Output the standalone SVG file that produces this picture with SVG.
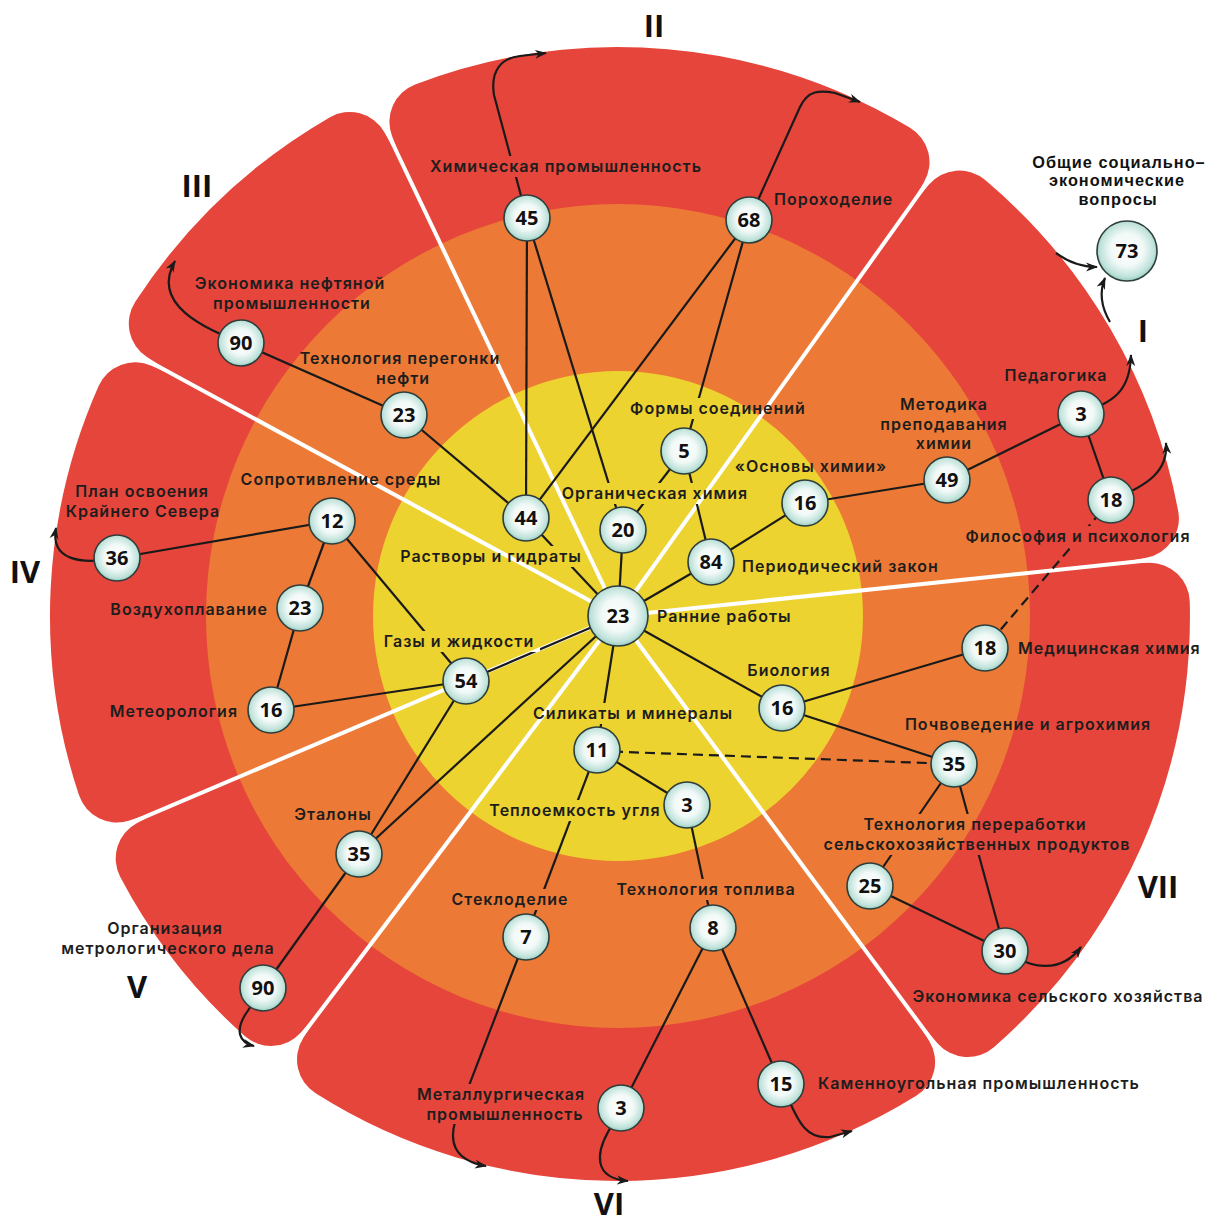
<svg xmlns="http://www.w3.org/2000/svg" width="1212" height="1224" viewBox="0 0 1212 1224">
<style>
.petal{fill:#E6453B;stroke:#E6453B;stroke-width:80;stroke-linejoin:round}
.sep{stroke:#FFFFFF;stroke-width:4;fill:none}
.c{stroke:#1a1a1a;stroke-width:2.2;fill:none}
.d{stroke:#1a1a1a;stroke-width:2.2;fill:none;stroke-dasharray:10 6}
.a{stroke:#1a1a1a;stroke-width:2.2;fill:none;marker-end:url(#ah)}
.node{fill:url(#ball);stroke:#2f3d3b;stroke-width:1.6}
.n{font-family:"Open Sans","Noto Sans",sans-serif;font-weight:700;font-size:20px;fill:#111;text-anchor:middle}
.l{font-family:Inter,"Open Sans",sans-serif;font-weight:600;font-size:16px;letter-spacing:1px;fill:#1d1d1d}
.m{text-anchor:middle}
.e{text-anchor:end}
.t{font-family:"Liberation Sans",Arial,sans-serif;font-weight:700;font-size:16.3px;letter-spacing:1px;fill:#111;text-anchor:middle}
.r{font-family:"Open Sans","Noto Sans",sans-serif;font-weight:700;font-size:31px;fill:#111;text-anchor:middle}
</style>
<defs>
<radialGradient id="ball" cx="50%" cy="48%" r="55%">
<stop offset="0" stop-color="#ffffff"/>
<stop offset="0.5" stop-color="#f1f9f7"/>
<stop offset="0.82" stop-color="#bfe2da"/>
<stop offset="1" stop-color="#84c5b7"/>
</radialGradient>
<marker id="ah" viewBox="0 0 12 10" refX="11" refY="5" markerWidth="12" markerHeight="10" markerUnits="userSpaceOnUse" orient="auto">
<path d="M0,0.5 L12,5 L0,9.5 L3.5,5 Z" fill="#1a1a1a"/>
</marker>
<mask id="knock" maskUnits="userSpaceOnUse" x="0" y="0" width="1212" height="1224">
<rect x="0" y="0" width="1212" height="1224" fill="#fff"/>
<g fill="#000">
<rect x="423" y="156" width="286" height="21"/>
<rect x="556" y="483" width="199" height="21"/>
<rect x="623" y="398" width="191" height="21"/>
<rect x="395" y="546" width="192" height="21"/>
<rect x="378" y="631" width="162" height="21"/>
<rect x="526" y="703" width="214" height="21"/>
<rect x="486" y="800" width="179" height="21"/>
<rect x="609" y="879" width="193" height="21"/>
<rect x="448" y="889" width="124" height="21"/>
<rect x="857" y="814" width="237" height="21"/>
<rect x="817" y="834" width="319" height="21"/>
<rect x="957" y="526" width="242" height="21"/>
<rect x="413" y="1084" width="177" height="21"/>
<rect x="421" y="1103" width="168" height="21"/>
</g>
</mask>
</defs>
<rect x="0" y="0" width="1212" height="1224" fill="#ffffff"/>
<g id="petals">
<path id="petal-I" class="petal" d="M618,616 L959.4,210.6 A530,530 0 0 1 1138.9,518.5 Z"/>
<path id="petal-II" class="petal" d="M618,616 L429.4,121.8 A529,529 0 0 1 889.5,162.0 Z"/>
<path id="petal-III" class="petal" d="M618,616 L168.8,323.6 A536,536 0 0 1 349.6,152.0 Z"/>
<path id="petal-IV" class="petal" d="M618,616 L116.9,782.5 A528,528 0 0 1 135.2,402.3 Z"/>
<path id="petal-V" class="petal" d="M618,616 L271.0,1005.9 A522,522 0 0 1 155.7,858.4 Z"/>
<path id="petal-VI" class="petal" d="M618,616 L895.1,1061.9 A525,525 0 0 1 337.0,1059.5 Z"/>
<path id="petal-VII" class="petal" d="M618,616 L1149.8,602.8 A532,532 0 0 1 967.6,1017.0 Z"/>
</g>
<circle id="ring-orange" cx="618" cy="616" r="412" fill="#EC7A36"/>
<circle id="ring-yellow" cx="618" cy="616" r="245" fill="#EDD330"/>
<g id="separators">
<line class="sep" x1="618" y1="616" x2="943.2" y2="160.1"/>
<line class="sep" x1="618" y1="616" x2="376.9" y2="110.5"/>
<line class="sep" x1="618" y1="616" x2="125.9" y2="348.8"/>
<line class="sep" x1="618" y1="616" x2="102.5" y2="834.8"/>
<line class="sep" x1="618" y1="616" x2="281.0" y2="1063.2"/>
<line class="sep" x1="618" y1="616" x2="951.1" y2="1066.2"/>
<line class="sep" x1="618" y1="616" x2="1174.9" y2="557.5"/>
</g>
<g id="connectors" mask="url(#knock)">
<line class="c" x1="618" y1="616" x2="526" y2="518"/>
<line class="c" x1="618" y1="616" x2="623" y2="530"/>
<line class="c" x1="618" y1="616" x2="711" y2="562"/>
<line class="c" x1="618" y1="616" x2="466" y2="681"/>
<line class="c" x1="618" y1="616" x2="597" y2="750"/>
<line class="c" x1="618" y1="616" x2="782" y2="708"/>
<line class="c" x1="618" y1="616" x2="359" y2="854"/>
<line class="c" x1="526" y1="518" x2="527" y2="218"/>
<line class="c" x1="526" y1="518" x2="749" y2="220"/>
<line class="c" x1="526" y1="518" x2="404" y2="415"/>
<line class="c" x1="527" y1="218" x2="623" y2="530"/>
<line class="c" x1="749" y1="220" x2="684" y2="451"/>
<line class="c" x1="684" y1="451" x2="623" y2="530"/>
<line class="c" x1="684" y1="451" x2="711" y2="562"/>
<line class="c" x1="711" y1="562" x2="805" y2="503"/>
<line class="c" x1="805" y1="503" x2="947" y2="480"/>
<line class="c" x1="947" y1="480" x2="1081" y2="414"/>
<line class="c" x1="1081" y1="414" x2="1111" y2="500"/>
<line class="d" x1="1111" y1="500" x2="985" y2="648"/>
<line class="c" x1="782" y1="708" x2="985" y2="648"/>
<line class="c" x1="782" y1="708" x2="954" y2="764"/>
<line class="d" x1="597" y1="751" x2="954" y2="764"/>
<line class="c" x1="597" y1="750" x2="687" y2="805"/>
<line class="c" x1="597" y1="750" x2="526" y2="937"/>
<line class="c" x1="687" y1="805" x2="713" y2="928"/>
<line class="c" x1="713" y1="928" x2="621" y2="1108"/>
<line class="c" x1="713" y1="928" x2="781" y2="1084"/>
<line class="c" x1="954" y1="764" x2="870" y2="886"/>
<line class="c" x1="954" y1="764" x2="1005" y2="951"/>
<line class="c" x1="870" y1="886" x2="1005" y2="951"/>
<line class="c" x1="466" y1="681" x2="332" y2="521"/>
<line class="c" x1="466" y1="681" x2="271" y2="710"/>
<line class="c" x1="466" y1="681" x2="359" y2="854"/>
<line class="c" x1="332" y1="521" x2="117" y2="558"/>
<line class="c" x1="332" y1="521" x2="300" y2="608"/>
<line class="c" x1="300" y1="608" x2="271" y2="710"/>
<line class="c" x1="241" y1="343" x2="404" y2="415"/>
<line class="c" x1="359" y1="854" x2="263" y2="988"/>
<path class="a" d="M526,937 L455,1122 C450,1140 452,1160 486,1166"/>
<path class="a" d="M621,1108 L608,1132 C597,1152 592,1178 628,1181"/>
<path class="a" d="M781,1084 C795,1110 800,1140 830,1137 L852,1131"/>
<path class="a" d="M1005,951 C1030,968 1060,975 1081,947"/>
<path class="a" d="M1081,414 C1110,402 1130,395 1131,355"/>
<path class="a" d="M1111,500 C1150,485 1168,470 1166,443"/>
<path class="a" d="M1056,253 C1068,262 1080,267 1097,267"/>
<path class="a" d="M1110,322 C1100,305 1100,290 1105,278"/>
<path class="a" d="M527,218 L494,95 C490,70 502,58 520,56 L546,53"/>
<path class="a" d="M749,220 L800,107 C808,90 820,90 835,93 L860,102"/>
<path class="a" d="M241,343 C205,328 150,305 175,261"/>
<path class="a" d="M117,558 C80,565 50,560 56,528"/>
<path class="a" d="M263,988 L245,1015 C236,1030 238,1042 254,1046"/>
</g>
<g id="nodes">
<g id="n-center"><circle class="node" cx="618" cy="616" r="30"/><text class="n" x="618" y="623" font-size="22">23</text></g>
<g id="n-44"><circle class="node" cx="526" cy="518" r="23"/><text class="n" x="526" y="525">44</text></g>
<g id="n-20"><circle class="node" cx="623" cy="530" r="23"/><text class="n" x="623" y="537">20</text></g>
<g id="n-5"><circle class="node" cx="684" cy="451" r="23"/><text class="n" x="684" y="458">5</text></g>
<g id="n-84"><circle class="node" cx="711" cy="562" r="23"/><text class="n" x="711" y="569">84</text></g>
<g id="n-16o"><circle class="node" cx="805" cy="503" r="23"/><text class="n" x="805" y="510">16</text></g>
<g id="n-49"><circle class="node" cx="947" cy="480" r="23"/><text class="n" x="947" y="487">49</text></g>
<g id="n-3p"><circle class="node" cx="1081" cy="414" r="23"/><text class="n" x="1081" y="421">3</text></g>
<g id="n-18f"><circle class="node" cx="1111" cy="500" r="23"/><text class="n" x="1111" y="507">18</text></g>
<g id="n-73"><circle class="node" cx="1127" cy="251" r="30"/><text class="n" x="1127" y="258">73</text></g>
<g id="n-45"><circle class="node" cx="527" cy="218" r="23"/><text class="n" x="527" y="225">45</text></g>
<g id="n-68"><circle class="node" cx="749" cy="220" r="23"/><text class="n" x="749" y="227">68</text></g>
<g id="n-90a"><circle class="node" cx="241" cy="343" r="23"/><text class="n" x="241" y="350">90</text></g>
<g id="n-23t"><circle class="node" cx="404" cy="415" r="23"/><text class="n" x="404" y="422">23</text></g>
<g id="n-12"><circle class="node" cx="332" cy="521" r="23"/><text class="n" x="332" y="528">12</text></g>
<g id="n-36"><circle class="node" cx="117" cy="558" r="23"/><text class="n" x="117" y="565">36</text></g>
<g id="n-23a"><circle class="node" cx="300" cy="608" r="23"/><text class="n" x="300" y="615">23</text></g>
<g id="n-16m"><circle class="node" cx="271" cy="710" r="23"/><text class="n" x="271" y="717">16</text></g>
<g id="n-54"><circle class="node" cx="466" cy="681" r="23"/><text class="n" x="466" y="688">54</text></g>
<g id="n-35e"><circle class="node" cx="359" cy="854" r="23"/><text class="n" x="359" y="861">35</text></g>
<g id="n-90b"><circle class="node" cx="263" cy="988" r="23"/><text class="n" x="263" y="995">90</text></g>
<g id="n-11"><circle class="node" cx="597" cy="750" r="23"/><text class="n" x="597" y="757">11</text></g>
<g id="n-3t"><circle class="node" cx="687" cy="805" r="23"/><text class="n" x="687" y="812">3</text></g>
<g id="n-7"><circle class="node" cx="526" cy="937" r="23"/><text class="n" x="526" y="944">7</text></g>
<g id="n-8"><circle class="node" cx="713" cy="928" r="23"/><text class="n" x="713" y="935">8</text></g>
<g id="n-3m"><circle class="node" cx="621" cy="1108" r="23"/><text class="n" x="621" y="1115">3</text></g>
<g id="n-15"><circle class="node" cx="781" cy="1084" r="23"/><text class="n" x="781" y="1091">15</text></g>
<g id="n-16b"><circle class="node" cx="782" cy="708" r="23"/><text class="n" x="782" y="715">16</text></g>
<g id="n-18m"><circle class="node" cx="985" cy="648" r="23"/><text class="n" x="985" y="655">18</text></g>
<g id="n-35p"><circle class="node" cx="954" cy="764" r="23"/><text class="n" x="954" y="771">35</text></g>
<g id="n-25"><circle class="node" cx="870" cy="886" r="23"/><text class="n" x="870" y="893">25</text></g>
<g id="n-30"><circle class="node" cx="1005" cy="951" r="23"/><text class="n" x="1005" y="958">30</text></g>
</g>
<g id="labels">
<text class="t" x="1119" y="168">Общие социально–<tspan x="1117" dy="18.4">экономические</tspan><tspan x="1118" dy="18.4">вопросы</tspan></text>
<text class="l m" x="566" y="172">Химическая промышленность</text>
<text class="l" x="774" y="205">Пороходелие</text>
<text class="l m" x="290" y="289">Экономика нефтяной<tspan x="292" dy="19.6">промышленности</tspan></text>
<text class="l m" x="400" y="364">Технология перегонки<tspan x="403" dy="19.6">нефти</tspan></text>
<text class="l m" x="718" y="414">Формы соединений</text>
<text class="l m" x="944" y="410">Методика<tspan x="944" dy="19.6">преподавания</tspan><tspan x="944" dy="19.6">химии</tspan></text>
<text class="l m" x="1056" y="381">Педагогика</text>
<text class="l m" x="811" y="472">«Основы химии»</text>
<text class="l m" x="655" y="499">Органическая химия</text>
<text class="l m" x="491" y="562">Растворы и гидраты</text>
<text class="l" x="742" y="572">Периодический закон</text>
<text class="l" x="657" y="622">Ранние работы</text>
<text class="l m" x="1078" y="542">Философия и психология</text>
<text class="l m" x="341" y="485">Сопротивление среды</text>
<text class="l m" x="142" y="497">План освоения<tspan x="143" dy="19.6">Крайнего Севера</tspan></text>
<text class="l e" x="268" y="615">Воздухоплавание</text>
<text class="l e" x="238" y="717">Метеорология</text>
<text class="l m" x="459" y="647">Газы и жидкости</text>
<text class="l m" x="789" y="676">Биология</text>
<text class="l" x="1018" y="654">Медицинская химия</text>
<text class="l m" x="633" y="719">Силикаты и минералы</text>
<text class="l m" x="1028" y="730">Почвоведение и агрохимия</text>
<text class="l m" x="333" y="820">Эталоны</text>
<text class="l m" x="575" y="816">Теплоемкость угля</text>
<text class="l m" x="975" y="830">Технология переработки<tspan x="977" dy="20">сельскохозяйственных продуктов</tspan></text>
<text class="l m" x="510" y="905">Стеклоделие</text>
<text class="l m" x="706" y="895">Технология топлива</text>
<text class="l m" x="165" y="934">Организация<tspan x="168" dy="19.6">метрологического дела</tspan></text>
<text class="l m" x="1058" y="1002">Экономика сельского хозяйства</text>
<text class="l m" x="501" y="1100">Металлургическая<tspan x="505" dy="19.6">промышленность</tspan></text>
<text class="l" x="818" y="1089">Каменноугольная промышленность</text>
</g>
<g id="sectors">
<text class="r" x="1143" y="342">I</text>
<text class="r" x="654" y="37">II</text>
<text class="r" x="197" y="197">III</text>
<text class="r" x="25" y="583">IV</text>
<text class="r" x="137" y="998">V</text>
<text class="r" x="609" y="1215">VI</text>
<text class="r" x="1158" y="898">VII</text>
</g>
</svg>
